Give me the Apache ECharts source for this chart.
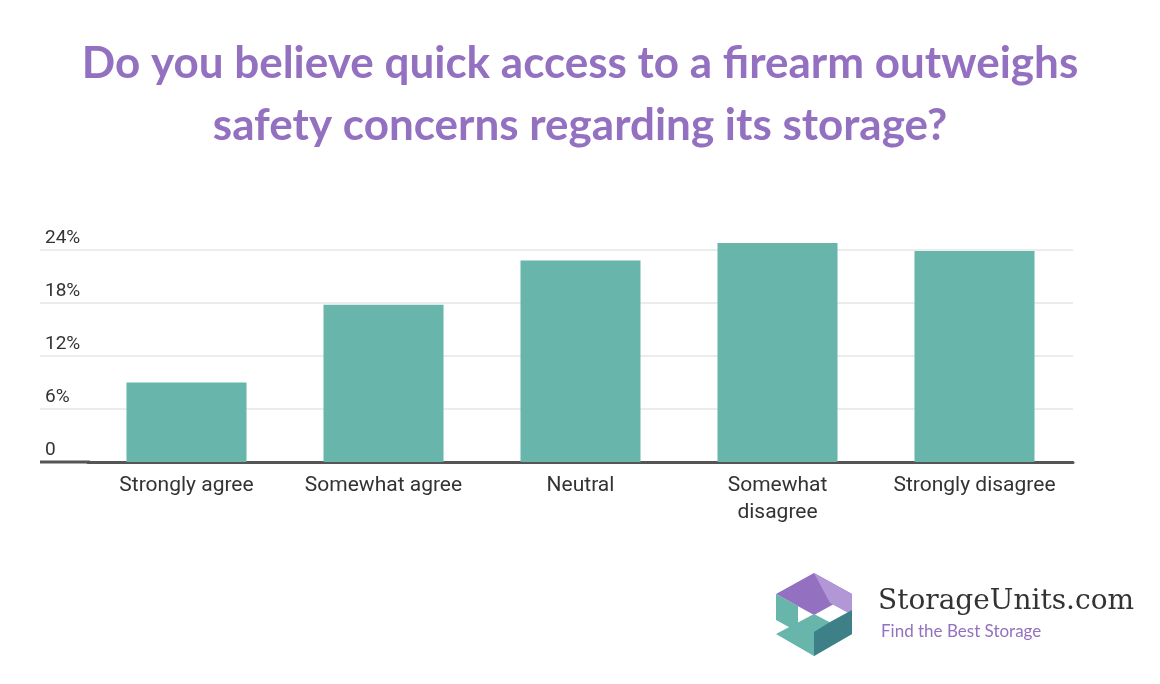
<!DOCTYPE html>
<html><head><meta charset="utf-8">
<script src="https://cdn.jsdelivr.net/npm/echarts@6/dist/echarts.min.js"></script>
<style>html,body{margin:0;padding:0;background:#fff}#c{width:1160px;height:684px}</style>
</head><body><div id="c"></div>
<script>
const categories = ['Strongly agree','Somewhat agree','Neutral','Somewhat\ndisagree','Strongly disagree'];
const values = [9.0, 17.8, 22.8, 24.8, 23.9];
const chart = echarts.init(document.getElementById('c'));
chart.setOption({
  backgroundColor:'#fff',
  title:{text:'Do you believe quick access to a firearm outweighs\nsafety concerns regarding its storage?',left:'center',top:28,
    textStyle:{color:'#9370c0',fontSize:44,fontWeight:'bold',fontFamily:'Lato',lineHeight:62}},
  grid:{left:88,right:87,top:250,bottom:222},
  xAxis:{type:'category',data:categories,axisTick:{show:false},
    axisLine:{lineStyle:{color:'#555',width:3}},
    axisLabel:{color:'#333',fontSize:21,fontFamily:'Roboto',margin:10,lineHeight:27,interval:0}},
  yAxis:{type:'value',min:0,max:24,interval:6,
    axisLabel:{formatter:v=>v===0?'0':v+'%',color:'#333',fontSize:19,fontFamily:'Roboto',align:'left',verticalAlign:'bottom',margin:43,padding:[0,0,2,0]},
    splitLine:{lineStyle:{color:'#e6e6e6',width:1.5}}},
  series:[{type:'bar',data:values,barWidth:120,clip:false,itemStyle:{color:'#67b5ab'}}],
  graphic:[
    {type:'line',shape:{x1:40,y1:462,x2:90,y2:462},style:{stroke:'#555',lineWidth:3}},
    {type:'line',shape:{x1:40,y1:250,x2:88,y2:250},style:{stroke:'#e6e6e6',lineWidth:1.5}},
    {type:'line',shape:{x1:40,y1:303,x2:88,y2:303},style:{stroke:'#e6e6e6',lineWidth:1.5}},
    {type:'line',shape:{x1:40,y1:356,x2:88,y2:356},style:{stroke:'#e6e6e6',lineWidth:1.5}},
    {type:'line',shape:{x1:40,y1:409,x2:88,y2:409},style:{stroke:'#e6e6e6',lineWidth:1.5}},
    {type:'polygon',shape:{points:[[776,594],[814,573],[852,594],[814,615]]},style:{fill:'#9370c0'}},
    {type:'polygon',shape:{points:[[814,573],[852,594],[852,615],[830,603]]},style:{fill:'#b197d6'}},
    {type:'polygon',shape:{points:[[776,594],[798,606],[798,632],[776,620]]},style:{fill:'#67b5ab'}},
    {type:'polygon',shape:{points:[[776,634],[814,614],[852,634],[814,656]]},style:{fill:'#67b5ab'}},
    {type:'polygon',shape:{points:[[814,656],[852,634],[852,610],[830,622],[814,632]]},style:{fill:'#3e8088'}},
    {type:'text',left:878,top:588,style:{text:'StorageUnits.com',fill:'#333',font:'28px "DejaVu Serif"'}},
    {type:'text',left:881,top:623,style:{text:'Find the Best Storage',fill:'#9370c0',font:'17px Lato'}}
  ]
});
</script></body></html>
